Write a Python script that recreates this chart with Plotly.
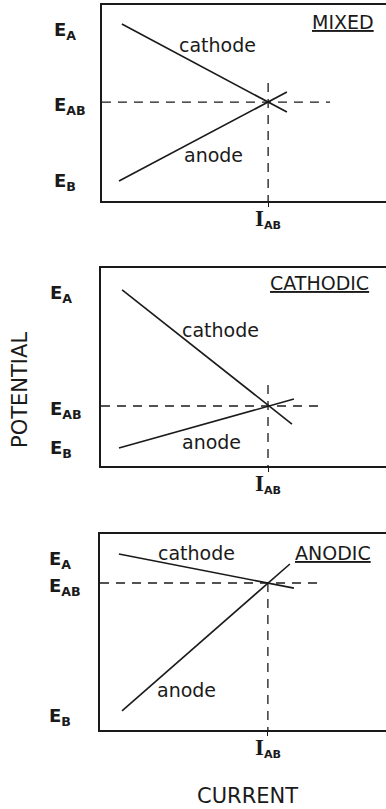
import plotly.graph_objects as go

# ---- data (arbitrary units: current 0-10, potential 0-10) ----
panel_titles = ["MIXED", "CATHODIC", "ANODIC"]
cathode_i = [[0.70, 6.51], [0.74, 6.70], [0.66, 6.78]]
cathode_e = [[9.03, 4.54], [8.89, 2.12], [8.98, 7.24]]
anode_i = [[0.60, 6.51], [0.63, 6.77], [0.77, 6.64]]
anode_e = [[1.02, 5.56], [0.91, 3.38], [0.97, 8.47]]
i_ab = [5.85, 5.86, 5.87]
e_ab = [5.05, 3.03, 7.50]
e_a = [8.67, 8.69, 8.67]
e_b = [0.97, 0.86, 0.66]
ref_line_end = [8.03, 7.79, 7.76]
ref_line_top = [6.02, 4.09, 7.50]
current_range = [0, 10]
potential_range = [0, 10]
e_labels = ["E<sub>A</sub>", "E<sub>AB</sub>", "E<sub>B</sub>"]
i_label = ("<span style='font-family:Liberation Serif;font-size:23px;font-weight:bold'>I</span>"
           "<sub><b>AB</b></sub>")

# ---- layout / styling ----
x_domains = [[0.2642, 1.0], [0.2617, 1.0], [0.2591, 1.0]]
y_domains = [[0.7515, 0.9938], [0.4240, 0.6687], [0.0977, 0.3399]]
e_label_left_px = [52, 48, 47]
e_label_shift = [0, -4, 0]
cathode_label_pos = [(4.08, 7.96), (4.18, 6.87), (3.39, 9.03)]
anode_label_pos = [(3.91, 2.35), (3.89, 1.21), (3.04, 2.04)]
title_pos = [(8.49, 9.13), (7.68, 9.24), (8.15, 9.03)]
FONT = "DejaVu Sans"
INK = "#1a1a1a"

fig = go.Figure()
annotations = []
layout_axes = {}

for k in range(3):
    n = "" if k == 0 else str(k + 1)
    xa, ya = "x" + n, "y" + n
    solid = dict(color=INK, width=1.6)
    dashed = dict(color=INK, width=1.3, dash="9px,7px")
    fig.add_trace(go.Scatter(x=cathode_i[k], y=cathode_e[k], mode="lines", line=solid,
                             xaxis=xa, yaxis=ya, showlegend=False, hoverinfo="skip"))
    fig.add_trace(go.Scatter(x=anode_i[k], y=anode_e[k], mode="lines", line=solid,
                             xaxis=xa, yaxis=ya, showlegend=False, hoverinfo="skip"))
    fig.add_trace(go.Scatter(x=[current_range[0], ref_line_end[k]], y=[e_ab[k], e_ab[k]],
                             mode="lines", line=dashed, xaxis=xa, yaxis=ya,
                             showlegend=False, hoverinfo="skip"))
    fig.add_trace(go.Scatter(x=[i_ab[k], i_ab[k]], y=[ref_line_top[k], potential_range[0]],
                             mode="lines", line=dashed, xaxis=xa, yaxis=ya,
                             showlegend=False, hoverinfo="skip"))

    layout_axes["xaxis" + n] = dict(
        domain=x_domains[k], range=current_range, anchor=ya,
        showline=True, mirror=True, linecolor=INK, linewidth=1.5,
        showgrid=False, zeroline=False,
        tickvals=[i_ab[k]], ticks="outside", ticklen=4,
        tickcolor=INK, tickwidth=1.3, showticklabels=False,
    )
    layout_axes["yaxis" + n] = dict(
        domain=y_domains[k], range=potential_range, anchor=xa,
        showline=True, mirror=False, linecolor=INK, linewidth=1.5,
        showgrid=False, zeroline=False, showticklabels=False, ticks="",
    )

    # I_AB label under the axis
    annotations.append(dict(x=i_ab[k], xref=xa, xanchor="center",
                            y=0, yref=ya + " domain", yanchor="top", yshift=-3,
                            text=i_label, showarrow=False,
                            font=dict(family=FONT, size=16, color=INK)))

    for val, lab, sh in zip([e_a[k], e_ab[k], e_b[k]], e_labels, e_label_shift):
        annotations.append(dict(x=e_label_left_px[k] / 386, xref="paper", xanchor="left",
                                y=val, yref=ya, yanchor="middle", yshift=sh,
                                text="<b>" + lab + "</b>", showarrow=False,
                                font=dict(family=FONT, size=18, color=INK)))
    cx, cy = cathode_label_pos[k]
    annotations.append(dict(x=cx, y=cy, xref=xa, yref=ya, text="cathode", showarrow=False,
                            font=dict(family=FONT, size=19, color=INK)))
    ax_, ay_ = anode_label_pos[k]
    annotations.append(dict(x=ax_, y=ay_, xref=xa, yref=ya, text="anode", showarrow=False,
                            font=dict(family=FONT, size=19, color=INK)))
    tx, ty = title_pos[k]
    annotations.append(dict(x=tx, y=ty, xref=xa, yref=ya, text="<u>" + panel_titles[k] + "</u>",
                            showarrow=False, font=dict(family=FONT, size=19, color=INK)))

annotations.append(dict(x=20 / 386, y=1 - 390 / 809, xref="paper", yref="paper",
                        xanchor="center", yanchor="middle",
                        text="POTENTIAL", textangle=-90, showarrow=False,
                        font=dict(family=FONT, size=21, color=INK)))
annotations.append(dict(x=247 / 386, y=1 - 796 / 809, xref="paper", yref="paper",
                        xanchor="center", yanchor="middle",
                        text="CURRENT", showarrow=False,
                        font=dict(family=FONT, size=21, color=INK)))

fig.update_layout(
    width=386, height=809, autosize=False,
    margin=dict(l=0, r=0, t=0, b=0),
    paper_bgcolor="white", plot_bgcolor="white",
    annotations=annotations,
    **layout_axes,
)

fig.write_html("out.html", config={"displayModeBar": False},
               post_script="document.body.style.margin='0';document.body.style.overflow='hidden';")
